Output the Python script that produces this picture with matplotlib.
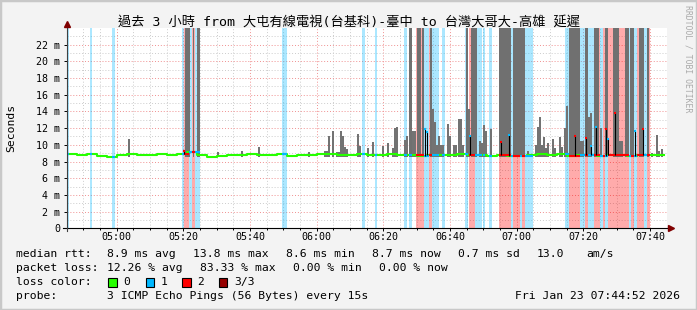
import numpy as np
import matplotlib.pyplot as plt
from matplotlib.patches import Rectangle

W, H = 697, 310
MONO = ['DejaVu Sans Mono', 'Noto Sans CJK TC']
plt.rcParams['font.family'] = MONO

title = '過去 3 小時 from 大屯有線電視(台基科)-臺中 to 台灣大哥大-高雄 延遲'

# x axis is minutes after 04:45, y axis is milliseconds
tick_labels = ['05:00', '05:20', '05:40', '06:00', '06:20', '06:40', '07:00', '07:20', '07:40']
y_ticks = [0, 2, 4, 6, 8, 10, 12, 14, 16, 18, 20, 22]

# loss background bands (start, end in minutes, lost pings out of 3)
band_start = [0.2, 7.0, 13.6, 34.6, 35.2, 36.6, 37.6, 38.6, 64.7, 88.5, 92.5, 101.3, 102.8,
              104.8, 107.2, 108.8, 109.6, 112.5, 119.5, 120.6, 122.5, 124.9, 126.8, 129.8,
              133.2, 134.0, 136.0, 136.6, 137.4, 149.6, 150.6, 154.0, 155.5, 156.5, 158.2,
              160.0, 160.8, 161.5, 162.5, 168.8, 169.3, 170.2, 171.0, 173.2, 174.0]
band_end = [0.8, 7.6, 14.5, 35.2, 36.6, 37.6, 38.6, 40.0, 66.0, 89.5, 93.2, 102.0, 103.5,
            107.2, 108.8, 109.6, 111.6, 113.5, 120.5, 122.5, 124.5, 125.6, 127.5, 133.2,
            134.0, 136.0, 136.6, 137.4, 140.0, 150.6, 154.0, 155.5, 156.5, 158.2, 160.0,
            160.8, 161.5, 162.5, 168.8, 169.3, 170.2, 171.0, 173.2, 174.0, 175.0]
band_lost = [1, 1, 1, 1, 2, 1, 2, 1, 1, 1, 1, 1, 1, 2, 1, 2, 1, 1, 1, 2, 1, 1, 1, 2,
             1, 2, 1, 2, 1, 1, 2, 1, 2, 1, 2, 1, 2, 1, 2, 1, 2, 1, 2, 1, 2]

# smoke that runs off the top of the graph
full_start = [35.5, 37.8, 39.0, 102.8, 105.0, 106.6, 108.9, 119.8, 121.4, 129.8, 134.0,
              150.8, 155.5, 158.2, 161.6, 164.0, 167.5, 169.0, 171.8, 174.0]
full_end = [37.0, 38.3, 40.0, 103.5, 106.2, 107.3, 109.6, 120.4, 123.0, 133.2, 137.4,
            154.0, 156.3, 159.8, 162.5, 165.6, 168.8, 170.2, 173.2, 174.8]

# smoke bars (max rtt of the step)
smoke_t = [18.7, 45.3, 52.6, 57.7, 72.7, 77.6, 78.2, 78.8, 79.9, 81.1, 81.7, 82.3,
           82.9, 83.5, 84.2, 87.3, 88.0, 90.3, 91.9, 94.9, 96.4, 97.9, 98.5, 99.1,
           101.5, 102.2, 103.8, 104.4, 110.0, 110.6, 111.2, 111.8, 112.4, 113.0, 114.5, 115.1,
           116.3, 116.9, 117.8, 118.4, 119.0, 120.7, 124.0, 124.6, 125.3, 125.9, 127.3, 138.5,
           140.7, 141.3, 141.9, 142.5, 143.3, 143.9, 144.5, 145.9, 146.5, 147.9, 148.5, 149.5,
           150.1, 154.2, 154.8, 156.7, 157.3, 160.4, 166.0, 166.6, 175.6, 177.2, 177.8, 178.7]
smoke_top = [10.7, 9.1, 9.3, 9.8, 9.1, 9.3, 9.3, 11.1, 11.6, 9.1, 9.1, 11.7,
             11.0, 9.7, 9.5, 11.3, 9.9, 9.6, 10.4, 9.9, 10.2, 9.6, 12.0, 12.1,
             10.6, 11.1, 11.7, 11.7, 14.3, 12.7, 10.0, 11.1, 10.0, 10.0, 12.5, 11.1,
             10.0, 10.0, 13.1, 13.1, 10.0, 14.3, 10.5, 10.2, 12.4, 11.7, 11.9, 9.3,
             10.0, 12.1, 13.3, 10.0, 10.9, 9.6, 10.2, 10.7, 9.6, 10.9, 9.8, 12.0,
             14.7, 10.5, 10.5, 13.3, 13.8, 12.0, 10.5, 10.5, 9.0, 11.15, 9.3, 9.55]

# median rtt baseline
med_t = [0, 3, 6, 9, 12, 15, 18, 21, 24, 27, 30, 33, 36, 39, 42, 45, 48, 51, 54, 57,
         60, 63, 66, 69, 72, 75, 78, 81, 84, 87, 90, 93, 96, 99, 102, 105, 108, 111, 114, 117,
         120, 123, 126, 129, 132, 135, 138, 141, 144, 147, 150, 153, 156, 159, 162, 165, 168, 171,
         174, 177, 179.3]
med_v = [8.9, 8.8, 8.9, 8.7, 8.6, 8.8, 8.9, 8.8, 8.8, 8.9, 8.8, 8.9, 9.1, 8.8, 8.6, 8.7,
         8.8, 8.8, 8.9, 8.8, 8.8, 8.9, 8.7, 8.8, 8.8, 8.9, 8.9, 8.8, 8.8, 8.9, 8.8, 8.8,
         8.9, 8.8, 8.8, 8.7, 8.8, 8.8, 8.8, 8.9, 8.8, 8.8, 8.7, 8.8, 8.7, 8.7, 8.8, 8.9,
         8.8, 8.9, 8.7, 8.8, 8.8, 8.7, 8.8, 8.8, 8.7, 8.8, 8.8, 8.8, 8.8]

# median spikes during loss
peak_t = [35.3, 107.6, 108.2, 121.0, 130.3, 132.6, 152.6, 155.8, 157.3, 158.7, 161.8, 162.4,
          164.5, 170.5, 172.8]
peak_v = [9.3, 11.95, 11.5, 11.1, 10.3, 11.2, 11.1, 10.8, 9.9, 12.15, 11.9, 10.7,
          13.8, 11.6, 11.9]
peak_lost = [2, 1, 1, 1, 2, 1, 2, 2, 1, 1, 2, 1, 2, 1, 2]

loss_colors = {0: '#26ff00', 1: '#00b8ff', 2: '#ff0000', 3: '#960000'}


def fx(px):
    return px / W


def fy(py):
    return 1 - py / H


def med_at(t):
    i = np.searchsorted(med_t, t, side='right') - 1
    return med_v[max(i, 0)]


fig = plt.figure(figsize=(W / 100, H / 100), dpi=100, facecolor='#f3f3f3')
ax = fig.add_axes([fx(66.7), fy(228.3), (666.7 - 66.7) / W, (228.3 - 28) / H])
ax.set_xlim(0, 180)
ax.set_ylim(0, 24)
for s in ax.spines.values():
    s.set_visible(False)

# grid
for m in range(5, 180, 5):
    major = (m - 15) % 20 == 0
    ax.axvline(m, color='#f09090' if major else '#cccccc', lw=0.7,
               ls=(0, (1, 2)), zorder=1)
for v in range(1, 24):
    ax.axhline(v, color='#f09090' if v % 2 == 0 else '#cccccc', lw=0.7,
               ls=(0, (1, 2)), zorder=1)

# loss bands
for s, e, n in zip(band_start, band_end, band_lost):
    ax.axvspan(s, e, color=loss_colors[n], alpha=0.33, lw=0, zorder=2)

# smoke
base = 8.6
ax.bar(full_start, 30 - base, bottom=base, width=np.subtract(full_end, full_start),
       align='edge', color='#707070', lw=0, zorder=3)
ax.bar(smoke_t, np.subtract(smoke_top, base), bottom=base, width=0.6,
       color='#737373', lw=0, zorder=3)

# median
ax.step(med_t, med_v, where='post', color=loss_colors[0], lw=1.5, zorder=5)
for s, e, n in zip(band_start, band_end, band_lost):
    ax.hlines(med_at(s), s, e, color=loss_colors[n], lw=1.5, zorder=6)
for t, v, n in zip(peak_t, peak_v, peak_lost):
    ax.vlines(t, med_at(t), v, color='black', lw=0.8, zorder=7)
    ax.hlines(v, t - 0.3, t + 0.3, color=loss_colors[n], lw=1.5, zorder=8)

# axes with arrows
ax.plot([-1.2, 181.0], [0, 0], color='black', lw=0.8, clip_on=False, zorder=10)
ax.plot(181.3, 0, marker='>', ms=4, color='#800000', clip_on=False, zorder=11)
ax.plot([0, 0], [-0.35, 24.3], color='#404040', lw=0.8, clip_on=False, zorder=10)
ax.plot(0, 24.5, marker='^', ms=4, color='#800000', clip_on=False, zorder=11)

x_ticks = [(int(l[:2]) * 60 + int(l[3:])) - (4 * 60 + 45) for l in tick_labels]
ax.set_xticks(x_ticks, labels=tick_labels)
ax.set_xticks(range(5, 180, 5), minor=True)
ax.set_yticks(y_ticks, labels=[f'{v} m' if v else '0' for v in y_ticks])
ax.tick_params(axis='x', which='major', length=2, width=0.7, pad=1.0, labelsize=7.2)
ax.tick_params(axis='x', which='minor', length=1.5, width=0.7)
ax.tick_params(axis='y', length=2, width=0.7, pad=2.8, labelsize=7.2)

fig.text(0.5, fy(22), title, ha='center', va='center', fontsize=9.5)
fig.text(fx(11), fy(128), 'Seconds', rotation=90, ha='center', va='center', fontsize=8.2)
fig.text(fx(688.3), fy(59), 'RRDTOOL / TOBI OETIKER', rotation=270, ha='center',
         va='center', fontsize=5.9, color='#aaaaaa')

# legend
fs = 8.2
rows = [
    (254.3, [('median rtt:', 16), ('8.9 ms avg', 107.3), ('13.8 ms max', 193.3),
             ('8.6 ms min', 286), ('8.7 ms now', 371.7), ('0.7 ms sd', 458.3),
             ('13.0', 536.7), ('am/s', 586.7)]),
    (268.3, [('packet loss:', 16), ('12.26 % avg', 107.3), ('83.33 % max', 200),
             ('0.00 % min', 292.7), ('0.00 % now', 379.3)]),
    (282.3, [('loss color:', 16), ('0', 123.3), ('1', 160.7), ('2', 197.3), ('3/3', 234)]),
    (296.0, [('probe:', 16), ('3 ICMP Echo Pings (56 Bytes) every 15s', 107.3)]),
]
for y, items in rows:
    for txt, x in items:
        fig.text(fx(x), fy(y), txt, ha='left', va='center', fontsize=fs)
fig.text(fx(680), fy(296), 'Fri Jan 23 07:44:52 2026', ha='right', va='center', fontsize=fs)

for x0, n in zip([108.3, 145.7, 182.3, 219.0], [0, 1, 2, 3]):
    fig.patches.append(Rectangle((fx(x0), fy(286.7)), 8.4 / W, 8.4 / H,
                                 transform=fig.transFigure, facecolor=loss_colors[n],
                                 edgecolor='black', lw=0.8))

fig.patches.append(Rectangle((0, 0), 1, 1, transform=fig.transFigure, fill=False,
                             edgecolor='#c8c8c8', lw=2.5))

fig.savefig('out.png', dpi=100, facecolor=fig.get_facecolor())
